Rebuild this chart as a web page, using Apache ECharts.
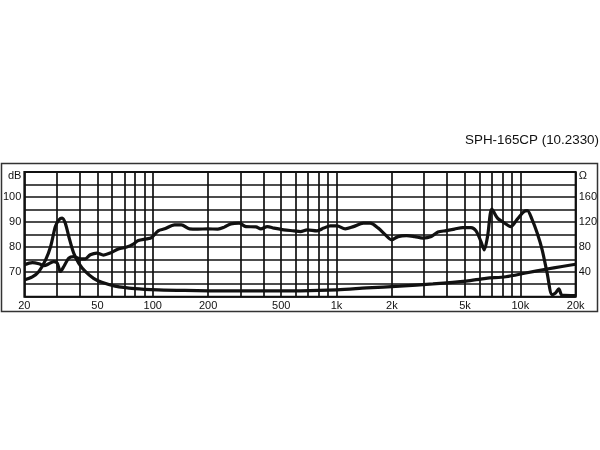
<!DOCTYPE html>
<html><head><meta charset="utf-8">
<script src="https://cdn.jsdelivr.net/npm/echarts@6/dist/echarts.min.js"></script>
<style>html,body{margin:0;padding:0;background:#fff}#c{width:600px;height:450px}</style>
</head><body><div id="c"></div>
<script>
const title = 'SPH-165CP (10.2330)';
const gridFreqs = [20,30,40,50,60,70,80,90,100,200,300,400,500,600,700,800,900,1000,2000,3000,4000,5000,6000,7000,8000,9000,10000,20000];
const freqLabels = [20,50,100,200,500,1000,2000,5000,10000,20000];
const dbLabels = [70,80,90,100];
const ohmLabels = [40,80,120,160];

const splFreq = [20,22.1,24.0,25.6,27.2,28.9,30.2,31.4,32.8,34.9,37.1,40.3,42.9,45.7,49.6,53.9,58.6,65,72.1,78.3,83.4,92.5,98.4,107,116,131.5,143,158.5,176,199,226,245,266,295,321,364,387,420,457,517,586,636,692,783,851,925,1005,1114,1235,1400,1521,1687,1833,1993,2163,2402,2662,2952,3278,3560,3952,4380,4858,5394,5740,6108,6364,6630,7006,7510,7992,8872,9632,10470,10912,11608,12352,13146,13990,14890,15540,16190,16868,20000];
const splDb = [72.8,73.7,73.2,72.4,73.2,74.1,73.5,70.1,72.1,75.5,76.1,75.2,75.2,76.8,77.5,76.7,77.5,79.1,79.9,81.1,82.5,83.2,83.7,86.4,87.2,88.8,88.8,87.2,87.1,87.2,87.1,87.9,89.2,89.5,88.1,88.0,87.2,88.1,87.5,86.8,86.4,86.1,86.8,86.4,87.5,88.4,88.4,87.2,88.1,89.5,89.5,87.5,85.0,82.8,84.1,84.5,84.1,83.5,84.1,85.9,86.5,87.1,87.7,87.7,86.4,82.1,78.8,84.1,95.1,91.5,90.1,88.1,91.1,94.1,94.5,90.8,85.5,78.8,69.5,60.8,61.5,63.1,60.6,60.4];

const impFreq = [20,22.1,24.0,26.1,27.8,29.5,30.8,32.1,33.4,34.9,37.1,39.5,42.9,47.6,52.8,62.3,79.9,107,149,277,636,1005,1460,2210,3344,5068,6500,8338,10694,13720,16868,20000];
const impOhm = [26.9,31.7,40.5,59,80.5,112.5,123,126,118,96.5,70,54,40.5,29.5,23,17,13,11,10,9.2,9.5,11,14,17,20.5,25,29.5,32,38,44,48.5,52];

const L = v => Math.log10(v);
const fmtF = v => { const f = Math.round(Math.pow(10, v)); return f >= 1000 ? (f/1000) + 'k' : String(f); };
const font = 'Liberation Sans';

const chart = echarts.init(document.getElementById('c'));
chart.setOption({
  animation: false,
  backgroundColor: '#fff',
  title: { text: title, right: 1, top: 134, padding: 0, textStyle: { fontSize: 13.4, fontWeight: 'normal', color: '#111', fontFamily: font } },
  graphic: [{ type: 'rect', shape: { x: 1.5, y: 163.5, width: 596, height: 148 }, style: { fill: null, stroke: '#333', lineWidth: 1.5 }, z: 0 }],
  grid: { left: 22, right: 23, top: 172, bottom: 153.3, show: true, borderColor: '#111', borderWidth: 2, backgroundColor: 'transparent' },
  xAxis: {
    type: 'value', min: L(20), max: L(20000),
    axisLine: { show: false },
    axisTick: { show: false, customValues: gridFreqs.map(L) },
    splitLine: { show: true, lineStyle: { color: '#111', width: 1.7 } },
    axisLabel: { customValues: freqLabels.map(L), formatter: fmtF, fontSize: 11, color: '#111', margin: 4, fontFamily: font }
  },
  yAxis: [{
    type: 'value', min: 60, max: 110, interval: 5,
    axisLine: { show: false }, axisTick: { show: false },
    splitLine: { show: true, lineStyle: { color: '#111', width: 1.7 } },
    axisLabel: { margin: 3, fontSize: 11, color: '#111', fontFamily: font,
      formatter: v => v === 110 ? '{u|dB}' : (dbLabels.includes(v) ? String(v) : ''),
      rich: { u: { fontSize: 11, color: '#111', fontFamily: font, padding: [8, 0, 0, 0] } } }
  }, {
    type: 'value', min: 0, max: 200, interval: 20, position: 'right',
    axisLine: { show: false }, axisTick: { show: false }, splitLine: { show: false },
    axisLabel: { margin: 3, fontSize: 11, color: '#111', fontFamily: font,
      formatter: v => v === 200 ? '{u|Ω}' : (ohmLabels.includes(v) ? String(v) : ''),
      rich: { u: { fontSize: 11, color: '#111', fontFamily: font, padding: [8, 0, 0, 0] } } }
  }],
  series: [{
    name: 'SPL', type: 'line', yAxisIndex: 0, showSymbol: false, smooth: 0.3,
    data: splFreq.map((f, i) => [L(f), splDb[i]]),
    lineStyle: { color: '#111', width: 3.2 }, clip: true
  }, {
    name: 'Impedance', type: 'line', yAxisIndex: 1, showSymbol: false, smooth: 0.3,
    data: impFreq.map((f, i) => [L(f), impOhm[i]]),
    lineStyle: { color: '#111', width: 3.2 }, clip: true
  }]
});
</script></body></html>
